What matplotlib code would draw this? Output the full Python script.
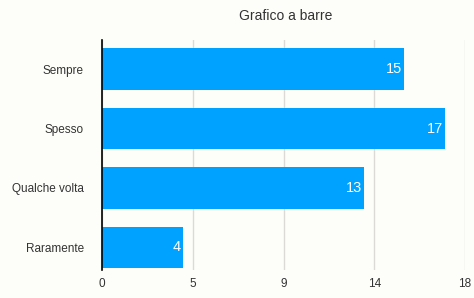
import matplotlib
matplotlib.use("Agg")
import matplotlib.pyplot as plt

plt.rcParams['font.family'] = ['Liberation Sans', 'DejaVu Sans']

categories = ['Sempre', 'Spesso', 'Qualche volta', 'Raramente']
values = [15, 17, 13, 4]
xticks = [0, 4.5, 9, 13.5, 18]
xtick_labels = ['0', '5', '9', '14', '18']

bg = '#fdfdf9'
fig = plt.figure(figsize=(4.74, 2.98), dpi=100, facecolor=bg)
ax = fig.add_axes([102/474, 1 - 270/298, (465-102)/474, (270-40)/298])
ax.set_facecolor(bg)

pos = list(range(len(categories)))[::-1]
bars = ax.barh(pos, values, height=0.7, color='#00a2ff', zorder=3)
for b, v in zip(bars, values):
    ax.text(b.get_width() - 0.1, b.get_y() + b.get_height()/2, str(v),
            ha='right', va='center', color='white', fontsize=10.5, zorder=4)

ax.set_xlim(0, 18)
ax.set_ylim(-0.38, 3.49)
ax.set_xticks(xticks)
ax.set_xticklabels(xtick_labels, fontsize=8.5, color='#333333')
ax.set_yticks(pos)
ax.set_yticklabels(categories, fontsize=8.5, color='#333333')
ax.tick_params(axis='both', length=0)
ax.tick_params(axis='x', pad=6)
ax.tick_params(axis='y', pad=13)
ax.grid(axis='x', color='#dcdad6', linewidth=1, zorder=0)
for s in ['top', 'right', 'bottom']:
    ax.spines[s].set_visible(False)
ax.spines['left'].set_color('black')
ax.spines['left'].set_linewidth(1.2)
ax.spines['left'].set_zorder(5)

fig.text(0.5 * (102 + 465) / 474 + 0.005, 1 - 16/298, 'Grafico a barre', ha='center', va='center',
         fontsize=10, color='#333333')

fig.savefig('out.png', dpi=100, facecolor=bg)
